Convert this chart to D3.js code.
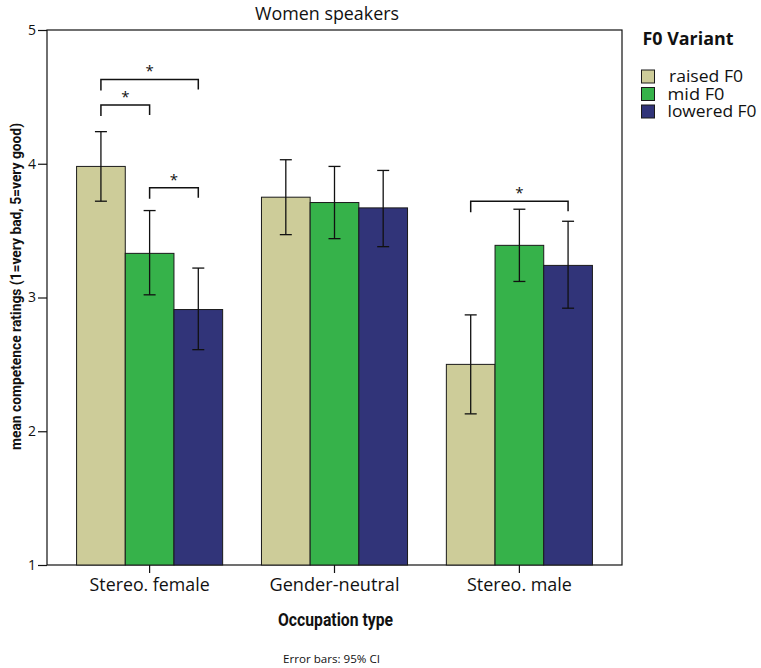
<!DOCTYPE html>
<html>
<head>
<meta charset="utf-8">
<script src="https://cdn.jsdelivr.net/npm/d3@7/dist/d3.min.js"></script>
<style>
  body { margin: 0; background: #fff; }
  svg { display: block; }
  text { font-family: "Open Sans", "Noto Sans", sans-serif; fill: #111; }
  .cond { font-family: "Liberation Sans Narrow", "Roboto", sans-serif; font-weight: bold; }
</style>
</head>
<body>
<svg id="chart" width="761" height="668"></svg>
<script>
// occupation groups and F0 variants
var groups   = ['Stereo. female', 'Gender-neutral', 'Stereo. male'];
var variants = ['raised F0', 'mid F0', 'lowered F0'];
var colors   = ['#cdcc99', '#36b24a', '#313479'];

// means and 95% CI per variant, one value per group
var raisedMean  = [3.98, 3.75, 2.50];
var raisedLow   = [3.72, 3.47, 2.13];
var raisedHigh  = [4.24, 4.03, 2.87];
var midMean     = [3.33, 3.71, 3.39];
var midLow      = [3.02, 3.44, 3.12];
var midHigh     = [3.65, 3.98, 3.66];
var lowMean     = [2.91, 3.67, 3.24];
var lowLow      = [2.61, 3.38, 2.92];
var lowHigh     = [3.22, 3.95, 3.57];

var yTicks = [1, 2, 3, 4, 5];

// significance brackets: group, from variant, to variant, level
var sigGroup = [0, 0, 0, 2];
var sigFrom  = [0, 0, 1, 0];
var sigTo    = [1, 2, 2, 2];
var sigLevel = [4.44, 4.63, 3.82, 3.72];

var means = [raisedMean, midMean, lowMean];
var lows  = [raisedLow, midLow, lowLow];
var highs = [raisedHigh, midHigh, lowHigh];

var rows = [];
groups.forEach(function(g, gi) {
  variants.forEach(function(v, vi) {
    rows.push({ group: g, variant: v, vi: vi, mean: means[vi][gi], lo: lows[vi][gi], hi: highs[vi][gi] });
  });
});

var svg = d3.select('#chart');
var plotL = 47, plotR = 622, plotT = 30, plotB = 565;

var x0 = d3.scaleBand().domain(groups).range([plotL, plotR]).paddingInner(0.21).paddingOuter(0.16);
var x1 = d3.scaleBand().domain(variants).range([0, x0.bandwidth()]);
var y  = d3.scaleLinear().domain([1, 5]).range([plotB, plotT]);

// frame
svg.append('rect')
  .attr('x', plotL).attr('y', plotT)
  .attr('width', plotR - plotL).attr('height', plotB - plotT)
  .attr('fill', 'none').attr('stroke', '#111').attr('stroke-width', 1.2);

// bars
var bar = svg.append('g').selectAll('g.bar').data(rows).enter().append('g').attr('class', 'bar')
  .attr('transform', function(d) { return 'translate(' + (x0(d.group) + x1(d.variant)) + ',0)'; });

bar.append('rect')
  .attr('x', 0).attr('width', x1.bandwidth())
  .attr('y', function(d) { return y(d.mean); })
  .attr('height', function(d) { return y(1) - y(d.mean); })
  .attr('fill', function(d) { return colors[d.vi]; })
  .attr('stroke', '#1a1a1a').attr('stroke-width', 1);

// error bars
var cx = x1.bandwidth() / 2, cap = 6;
bar.append('line')
  .attr('x1', cx).attr('x2', cx)
  .attr('y1', function(d) { return y(d.lo); })
  .attr('y2', function(d) { return y(d.hi); })
  .attr('stroke', '#111').attr('stroke-width', 1.3);
bar.append('line')
  .attr('x1', cx - cap).attr('x2', cx + cap)
  .attr('y1', function(d) { return y(d.hi); }).attr('y2', function(d) { return y(d.hi); })
  .attr('stroke', '#111').attr('stroke-width', 1.3);
bar.append('line')
  .attr('x1', cx - cap).attr('x2', cx + cap)
  .attr('y1', function(d) { return y(d.lo); }).attr('y2', function(d) { return y(d.lo); })
  .attr('stroke', '#111').attr('stroke-width', 1.3);

// significance brackets
sigGroup.forEach(function(gi, i) {
  var g = groups[gi];
  var xa = x0(g) + x1(variants[sigFrom[i]]) + cx;
  var xb = x0(g) + x1(variants[sigTo[i]]) + cx;
  var yl = y(sigLevel[i]);
  svg.append('path')
    .attr('d', 'M' + xa + ',' + (yl + 11) + 'V' + yl + 'H' + xb + 'V' + (yl + 10))
    .attr('fill', 'none').attr('stroke', '#111').attr('stroke-width', 1.5);
  svg.append('text')
    .attr('x', (xa + xb) / 2).attr('y', yl - 3)
    .attr('text-anchor', 'middle').attr('font-size', 15)
    .text('*');
});

// y axis
var yAxis = svg.append('g').attr('transform', 'translate(' + plotL + ',0)')
  .call(d3.axisLeft(y).tickValues(yTicks).tickFormat(d3.format('d')).tickSize(9).tickPadding(2));
yAxis.select('.domain').remove();
yAxis.selectAll('line').attr('stroke', '#111').attr('stroke-width', 1.2);
yAxis.selectAll('text').attr('font-size', 14).attr('font-family', '"Open Sans", sans-serif').attr('fill', '#111');

// x axis
var tickWidths = [120, 130, 105];
var xAxis = svg.append('g').attr('transform', 'translate(0,' + plotB + ')')
  .call(d3.axisBottom(x0).tickSize(8).tickPadding(4));
xAxis.select('.domain').remove();
xAxis.selectAll('line').attr('stroke', '#111').attr('stroke-width', 1.2);
xAxis.selectAll('text')
  .attr('font-size', 17.5).attr('font-family', '"Open Sans", sans-serif').attr('fill', '#111')
  .attr('dy', null).attr('y', 26)
  .attr('textLength', function(d, i) { return tickWidths[i]; })
  .attr('lengthAdjust', 'spacingAndGlyphs');

// titles
svg.append('text').attr('x', 327).attr('y', 20)
  .attr('text-anchor', 'middle').attr('font-size', 17.5)
  .attr('textLength', 144).attr('lengthAdjust', 'spacingAndGlyphs')
  .text('Women speakers');

svg.append('text').attr('class', 'cond')
  .attr('transform', 'translate(21,286.5) rotate(-90)')
  .attr('text-anchor', 'middle').attr('font-size', 14)
  .attr('textLength', 327).attr('lengthAdjust', 'spacingAndGlyphs')
  .text('mean competence ratings (1=very bad, 5=very good)');

svg.append('text').attr('class', 'cond')
  .attr('x', 335.5).attr('y', 626).attr('text-anchor', 'middle').attr('font-size', 18)
  .attr('textLength', 115).attr('lengthAdjust', 'spacingAndGlyphs')
  .text('Occupation type');

svg.append('text')
  .attr('x', 331.5).attr('y', 663).attr('text-anchor', 'middle').attr('font-size', 11.5)
  .attr('textLength', 97).attr('lengthAdjust', 'spacingAndGlyphs')
  .text('Error bars: 95% CI');

// legend
var legendWidths = [74, 57, 89];
var legend = svg.append('g').attr('transform', 'translate(641.5,0)');
legend.append('text').attr('x', 1).attr('y', 45)
  .attr('font-size', 17.5).attr('font-weight', 'bold')
  .attr('textLength', 91).attr('lengthAdjust', 'spacingAndGlyphs')
  .text('F0 Variant');
var item = legend.selectAll('g.item').data(variants).enter().append('g').attr('class', 'item')
  .attr('transform', function(d, i) { return 'translate(0,' + (70 + i * 17.5) + ')'; });
item.append('rect').attr('width', 13).attr('height', 13)
  .attr('fill', function(d, i) { return colors[i]; })
  .attr('stroke', '#1a1a1a').attr('stroke-width', 1);
item.append('text').attr('x', function(d, i) { return i === 0 ? 27.5 : 26; }).attr('y', 12)
  .attr('font-size', 15.5)
  .attr('textLength', function(d, i) { return legendWidths[i]; })
  .attr('lengthAdjust', 'spacingAndGlyphs')
  .text(function(d) { return d; });
</script>
</body>
</html>
